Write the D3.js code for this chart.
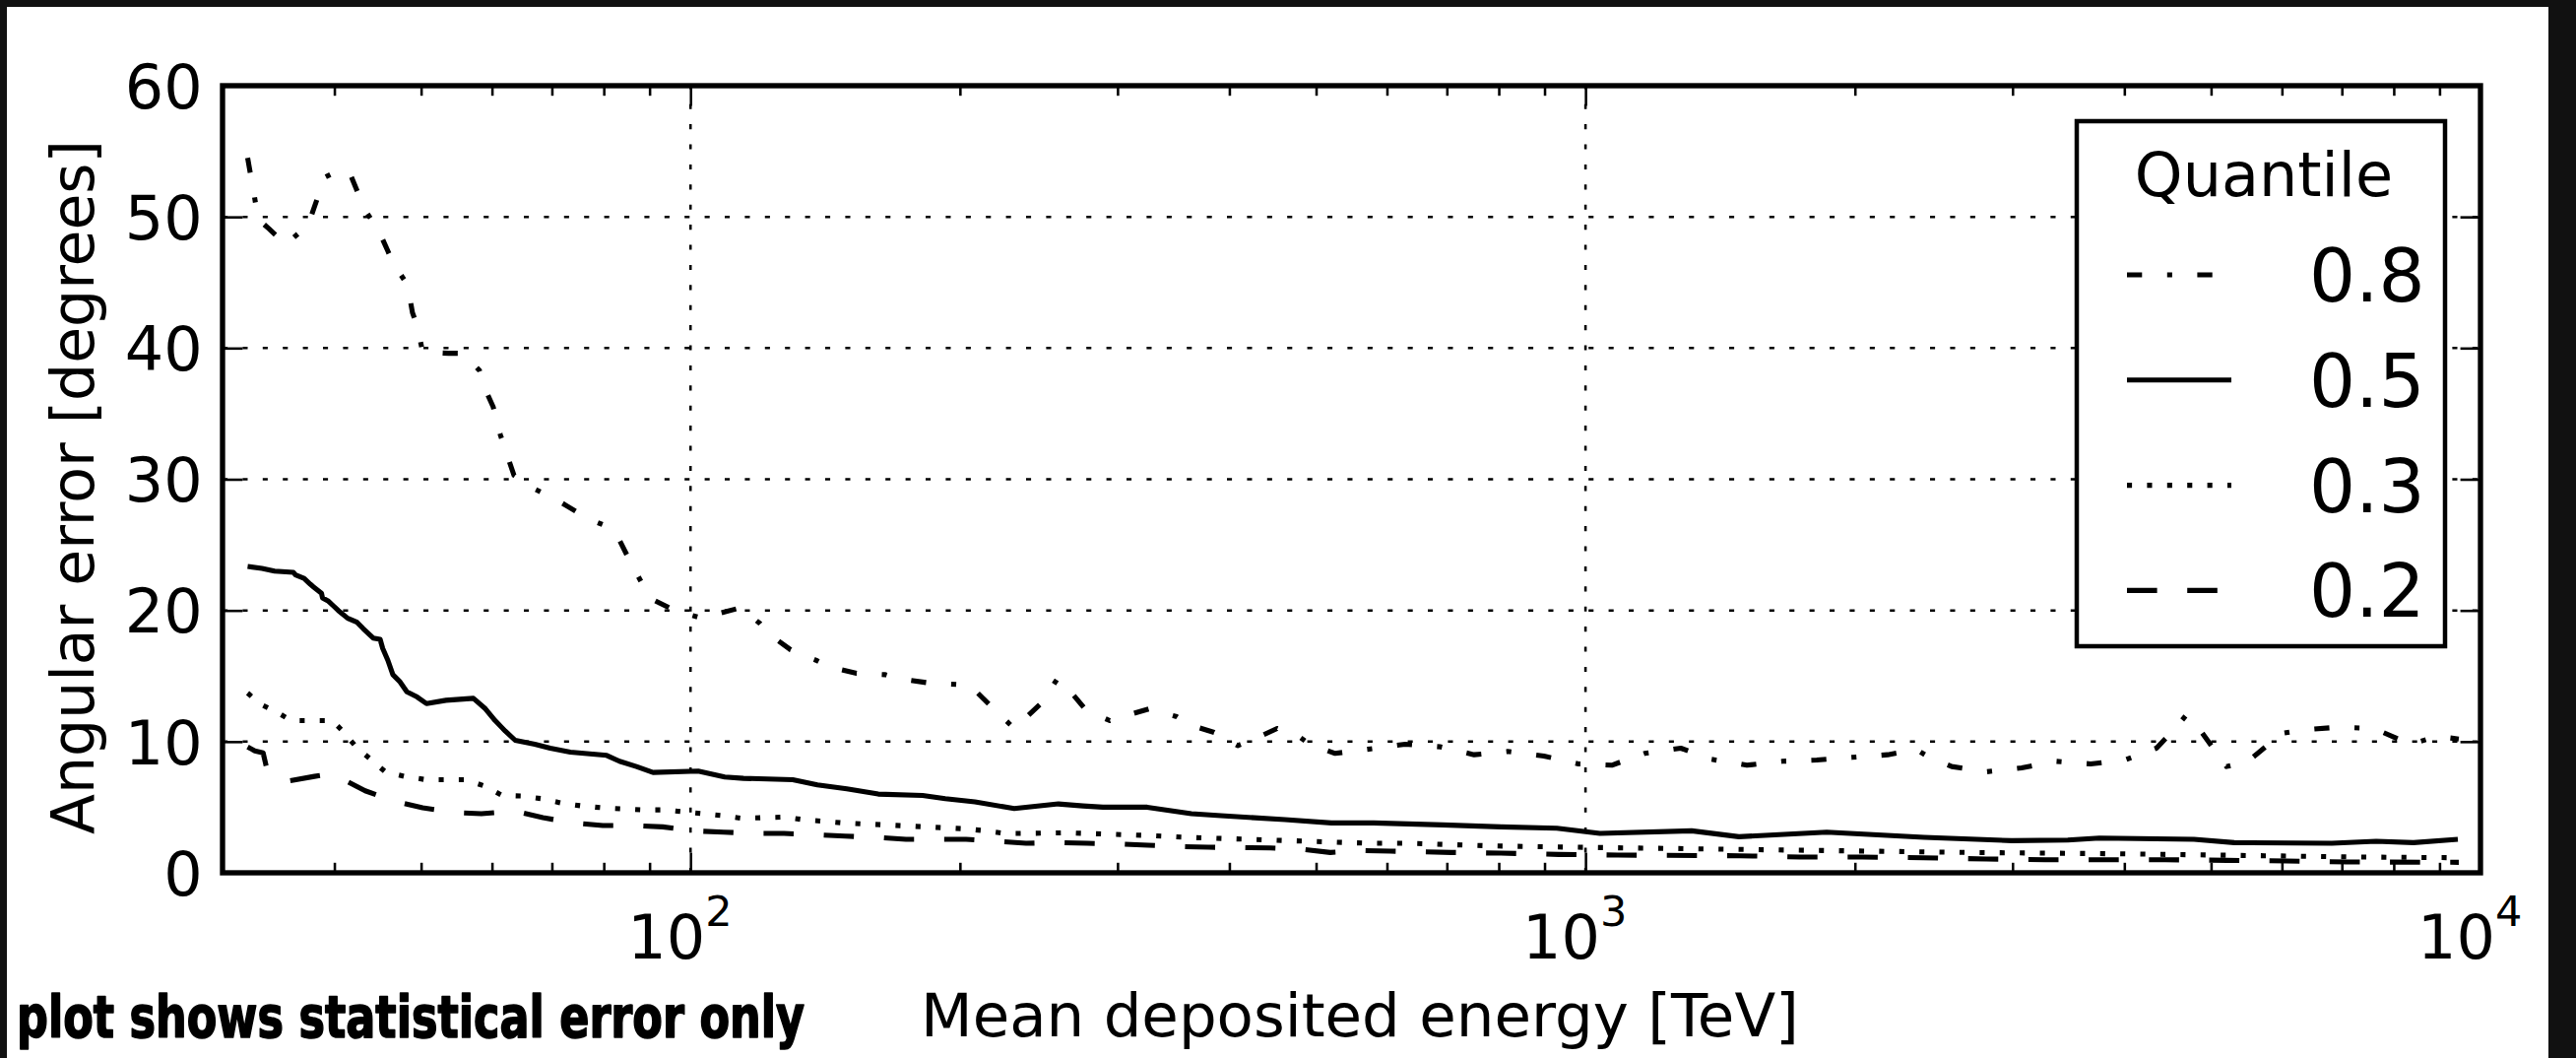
<!DOCTYPE html>
<html><head><meta charset="utf-8">
<script src="https://cdn.jsdelivr.net/npm/d3@7"></script>
<style>html,body{margin:0;padding:0;background:#111;} svg{display:block}</style>
</head><body>
<svg id="chart" width="2616" height="1074"></svg>
<script>
// ---- data: [mean deposited energy (TeV), angular error (degrees)] ----
const quantileLabels = ["0.8", "0.5", "0.3", "0.2"];
const q80 = [[32.0,54.5],[32.9,49.8],[33.8,49.1],[35.3,47.9],[37.4,49.4],[39.0,53.0],[40.6,53.6],[41.7,53.2],[42.7,51.5],[43.3,50.5],[44.8,49.0],[45.9,47.4],[46.5,46.5],[48.3,44.8],[48.9,42.7],[49.5,41.7],[50.2,39.7],[53.7,39.6],[55.7,39.6],[58.1,38.3],[59.3,36.5],[60.2,35.5],[61.3,33.4],[62.7,31.4],[63.5,30.3],[66.3,29.4],[70.6,28.5],[72.6,28.0],[76.8,27.0],[81.4,26.3],[83.1,25.5],[85.8,23.6],[88.7,21.8],[90.3,20.9],[96.0,20.0],[103.0,19.4],[106.5,19.7],[113.7,20.2],[119.6,19.0],[122.4,18.2],[129.4,17.0],[138.2,16.2],[142.8,15.7],[153.3,15.2],[165.1,15.1],[170.6,14.8],[183.5,14.5],[205.2,14.3],[215.9,12.8],[230.0,11.0],[246.3,12.9],[257.1,14.8],[264.4,14.0],[276.7,12.4],[294.1,11.6],[303.9,11.9],[325.4,12.5],[349.4,11.9],[360.2,11.3],[384.7,10.7],[408.7,9.7],[423.5,10.1],[452.3,11.0],[478.3,10.4],[491.8,9.8],[525.2,9.1],[575.4,9.45],[628.8,9.8],[688.9,9.6],[750.8,9.0],[818.3,9.25],[898.7,8.9],[982.1,8.3],[1070,8.2],[1164,9.1],[1278,9.5],[1383,8.65],[1515,8.2],[1659,8.5],[1813,8.6],[1986,8.8],[2176,9.0],[2342,9.4],[2408,8.9],[2566,8.1],[2804,7.7],[3071,8.0],[3356,8.5],[3667,8.3],[4007,8.6],[4345,9.5],[4559,11.0],[4688,12.0],[4882,10.7],[5202,8.1],[5500,8.5],[5800,9.8],[5949,10.6],[6355,10.9],[6942,11.1],[7605,11.0],[8353,9.8],[8945,10.4],[9457,10.2]];
const q50 = [[32.0,23.35],[33.2,23.2],[34.3,23.0],[36.0,22.9],[36.2,22.7],[37.0,22.45],[37.6,22.0],[37.9,21.8],[38.7,21.3],[38.8,20.95],[39.4,20.7],[39.9,20.35],[40.4,20.0],[41.4,19.4],[42.4,19.1],[43.1,18.6],[44.2,17.9],[45.0,17.8],[45.3,17.1],[45.9,16.2],[46.5,15.1],[47.3,14.6],[48.2,13.8],[49.5,13.4],[50.7,12.9],[53.3,13.15],[57.2,13.3],[59.0,12.5],[60.5,11.6],[62.1,10.8],[63.7,10.1],[67.0,9.8],[69.7,9.5],[73.4,9.2],[80.6,8.95],[83.3,8.5],[87.0,8.1],[90.8,7.65],[102.0,7.75],[109.2,7.3],[114.6,7.2],[130.1,7.1],[138.6,6.7],[149.5,6.4],[162.1,6.0],[181.7,5.9],[192.6,5.65],[207.9,5.4],[230.0,4.9],[257.7,5.25],[274.5,5.1],[288.9,5.0],[323.8,5.0],[362.8,4.5],[391.5,4.35],[461.6,4.05],[520.0,3.8],[579.9,3.8],[692.3,3.65],[804,3.5],[929,3.4],[1038,3.0],[1314,3.2],[1484,2.75],[1860,3.1],[2390,2.7],[2994,2.45],[3459,2.5],[3751,2.65],[4785,2.55],[5307,2.3],[6821,2.25],[7645,2.4],[8417,2.3],[9434,2.55]];
const q30 = [[32.0,13.7],[33.1,12.85],[34.6,12.2],[35.8,11.6],[39.8,11.6],[41.0,10.7],[42.3,9.6],[44.0,8.6],[45.6,7.7],[47.9,7.35],[50.6,7.1],[56.1,7.1],[58.9,6.6],[61.6,5.9],[64.8,5.85],[68.2,5.65],[71.9,5.3],[75.6,5.1],[79.8,4.95],[88.5,4.8],[93.1,4.8],[98.2,4.65],[103.3,4.5],[108.7,4.35],[114.3,4.15],[127.2,4.25],[133.8,4.05],[148.4,3.8],[165.1,3.65],[183.1,3.5],[203.2,3.35],[213.8,3.2],[224.7,3.0],[236.5,3.0],[263.0,3.05],[276.7,3.0],[323.8,2.85],[359.3,2.7],[420.3,2.55],[466.4,2.45],[517.3,2.35],[574.0,2.25],[636.8,2.25],[706.6,2.15],[785.7,2.05],[974.6,1.95],[1256,1.85],[1836,1.7],[2686,1.55],[3927,1.45],[5741,1.3],[7396,1.2],[9457,1.15]];
const q20 = [[32.0,9.6],[32.6,9.3],[33.3,9.15],[33.6,8.0],[34.4,7.3],[35.6,7.0],[38.0,7.35],[39.3,7.5],[40.7,7.2],[43.3,6.25],[46.5,5.5],[50.2,4.95],[54.4,4.6],[58.4,4.5],[63.7,4.7],[68.4,4.2],[74.1,3.8],[79.8,3.6],[86.5,3.6],[93.1,3.5],[100.4,3.2],[108.9,3.1],[118.1,3.0],[127.2,3.0],[138.2,2.9],[148.8,2.8],[161.3,2.7],[174.1,2.55],[203.2,2.55],[220.9,2.4],[237.1,2.25],[257.7,2.3],[277.4,2.25],[300.9,2.2],[324.6,2.1],[352.1,2.0],[378.9,1.95],[444.4,1.9],[480.7,1.8],[518.6,1.55],[562.4,1.7],[605.3,1.65],[708.4,1.55],[804,1.5],[933.5,1.4],[1087,1.35],[1488,1.3],[1737,1.2],[2038,1.2],[2384,1.15],[2804,1.05],[3264,1.0],[4445,1.0],[5215,0.95],[6071,0.9],[7085,0.83],[9457,0.8]];
const yTickValues = [0, 10, 20, 30, 40, 50, 60];
const xMajorValues = [100, 1000, 10000];
const xTickExponents = ["2", "3", "4"];
const xLabel = "Mean deposited energy [TeV]";
const yLabel = "Angular error [degrees]";
const legendTitle = "Quantile";
const noteText = "plot shows statistical error only";

// ---- layout ----
const W = 2616, H = 1074;
const L = 226, R = 2519, T = 87, B = 886;
const PT = 5.1; // pixels per point
const FONT = "'DejaVu Sans', 'Bitstream Vera Sans', sans-serif";

const svg = d3.select("#chart");
svg.append("rect").attr("x", 0).attr("y", 0).attr("width", W).attr("height", H).attr("fill", "#111");
svg.append("rect").attr("x", 7).attr("y", 7).attr("width", 2581).attr("height", H - 7).attr("fill", "#fff");

const x = d3.scaleLog().domain([30, 10000]).range([L, R]);
const y = d3.scaleLinear().domain([0, 60]).range([B, T]);

const styles = {
  "0.8": [3 * PT, 5 * PT, 1 * PT, 5 * PT].join(" "),
  "0.5": null,
  "0.3": [1 * PT, 3 * PT].join(" "),
  "0.2": [6 * PT, 6 * PT].join(" ")
};
const series = [
  {label: "0.8", data: q80},
  {label: "0.5", data: q50},
  {label: "0.3", data: q30},
  {label: "0.2", data: q20}
];

// grid
const grid = svg.append("g").attr("stroke", "#000").attr("stroke-width", 0.5 * PT)
  .attr("stroke-dasharray", styles["0.3"]).attr("fill", "none");
yTickValues.filter(v => v > 0 && v < 60).forEach(v => {
  grid.append("line").attr("x1", L).attr("x2", R).attr("y1", y(v)).attr("y2", y(v));
});
xMajorValues.filter(v => v < 10000).forEach(v => {
  grid.append("line").attr("x1", x(v)).attr("x2", x(v)).attr("y1", B).attr("y2", T);
});

// clip
svg.append("defs").append("clipPath").attr("id", "plotclip")
  .append("rect").attr("x", L).attr("y", T).attr("width", R - L).attr("height", B - T);

const line = d3.line().x(d => x(d[0])).y(d => y(d[1]));
const gLines = svg.append("g").attr("clip-path", "url(#plotclip)");
series.forEach(s => {
  gLines.append("path").datum(s.data).attr("d", line)
    .attr("fill", "none").attr("stroke", "#000").attr("stroke-width", PT)
    .attr("stroke-linejoin", "round").attr("stroke-linecap", "butt")
    .attr("stroke-dasharray", styles[s.label]);
});

// minor x ticks
const xMinorValues = [];
[10, 100, 1000].forEach(dec => { for (let k = 2; k <= 9; k++) { const v = k * dec; if (v > 30 && v < 10000) xMinorValues.push(v); } });

function styleAxis(g) {
  g.select(".domain").remove();
  g.selectAll(".tick line").attr("stroke", "#000").attr("stroke-width", 0.5 * PT);
}
svg.append("g").attr("transform", `translate(0,${B})`)
  .call(d3.axisBottom(x).tickValues(xMajorValues).tickSize(-4 * PT).tickFormat("")).call(styleAxis);
svg.append("g").attr("transform", `translate(0,${B})`)
  .call(d3.axisBottom(x).tickValues(xMinorValues).tickSize(-2 * PT).tickFormat("")).call(styleAxis);
svg.append("g").attr("transform", `translate(0,${T})`)
  .call(d3.axisTop(x).tickValues(xMajorValues).tickSize(-4 * PT).tickFormat("")).call(styleAxis);
svg.append("g").attr("transform", `translate(0,${T})`)
  .call(d3.axisTop(x).tickValues(xMinorValues).tickSize(-2 * PT).tickFormat("")).call(styleAxis);
const gLeft = svg.append("g").attr("transform", `translate(${L},0)`)
  .call(d3.axisLeft(y).tickValues(yTickValues).tickSize(-4 * PT).tickPadding(4 * PT).tickFormat(d3.format("d")))
  .call(styleAxis);
gLeft.selectAll(".tick text").attr("font-family", FONT).attr("font-size", 62).attr("fill", "#000").attr("dy", "0.36em");
svg.append("g").attr("transform", `translate(${R},0)`)
  .call(d3.axisRight(y).tickValues(yTickValues).tickSize(-4 * PT).tickFormat("")).call(styleAxis);

// x tick labels 10^n
xMajorValues.forEach((v, i) => {
  const t = svg.append("text").attr("x", x(v) - 64).attr("y", 973)
    .attr("font-family", FONT).attr("font-size", 62).attr("fill", "#000");
  t.append("tspan").text("10");
  t.append("tspan").attr("font-size", 43).attr("dy", -33).text(xTickExponents[i]);
});

// spines
svg.append("rect").attr("x", L).attr("y", T).attr("width", R - L).attr("height", B - T)
  .attr("fill", "none").attr("stroke", "#000").attr("stroke-width", 1.05 * PT);

// axis labels
svg.append("text").attr("x", 1381).attr("y", 1052).attr("text-anchor", "middle")
  .attr("font-family", FONT).attr("font-size", 61).attr("fill", "#000").text(xLabel);
svg.append("text").attr("transform", `translate(95,${(T + B) / 2 + 8}) rotate(-90)`).attr("text-anchor", "middle")
  .attr("font-family", FONT).attr("font-size", 60).attr("fill", "#000").text(yLabel);

// note
svg.append("text").attr("x", 17).attr("y", 1053)
  .attr("font-family", "'Liberation Sans Narrow', 'DejaVu Sans Condensed', 'Liberation Sans', sans-serif")
  .attr("font-weight", "900").attr("font-size", 59).attr("fill", "#000")
  .attr("stroke", "#000").attr("stroke-width", 1.6).attr("stroke-linejoin", "round")
  .attr("textLength", 800).attr("lengthAdjust", "spacingAndGlyphs").text(noteText);

// legend
const lg = svg.append("g");
lg.append("rect").attr("x", 2109).attr("y", 123).attr("width", 2483 - 2109).attr("height", 656 - 123)
  .attr("fill", "#fff").attr("stroke", "#000").attr("stroke-width", 4.5);
lg.append("text").attr("x", 2299).attr("y", 199).attr("text-anchor", "middle")
  .attr("font-family", FONT).attr("font-size", 62).attr("fill", "#000").text(legendTitle);
quantileLabels.forEach((lab, i) => {
  const ly = 279 + i * 106.8;
  lg.append("line").attr("x1", 2160).attr("x2", 2266).attr("y1", ly).attr("y2", ly)
    .attr("stroke", "#000").attr("stroke-width", PT).attr("stroke-dasharray", styles[lab]);
  lg.append("text").attr("x", 2345).attr("y", ly + 27)
    .attr("font-family", FONT).attr("font-size", 74).attr("fill", "#000").text(lab);
});
</script>
</body></html>
